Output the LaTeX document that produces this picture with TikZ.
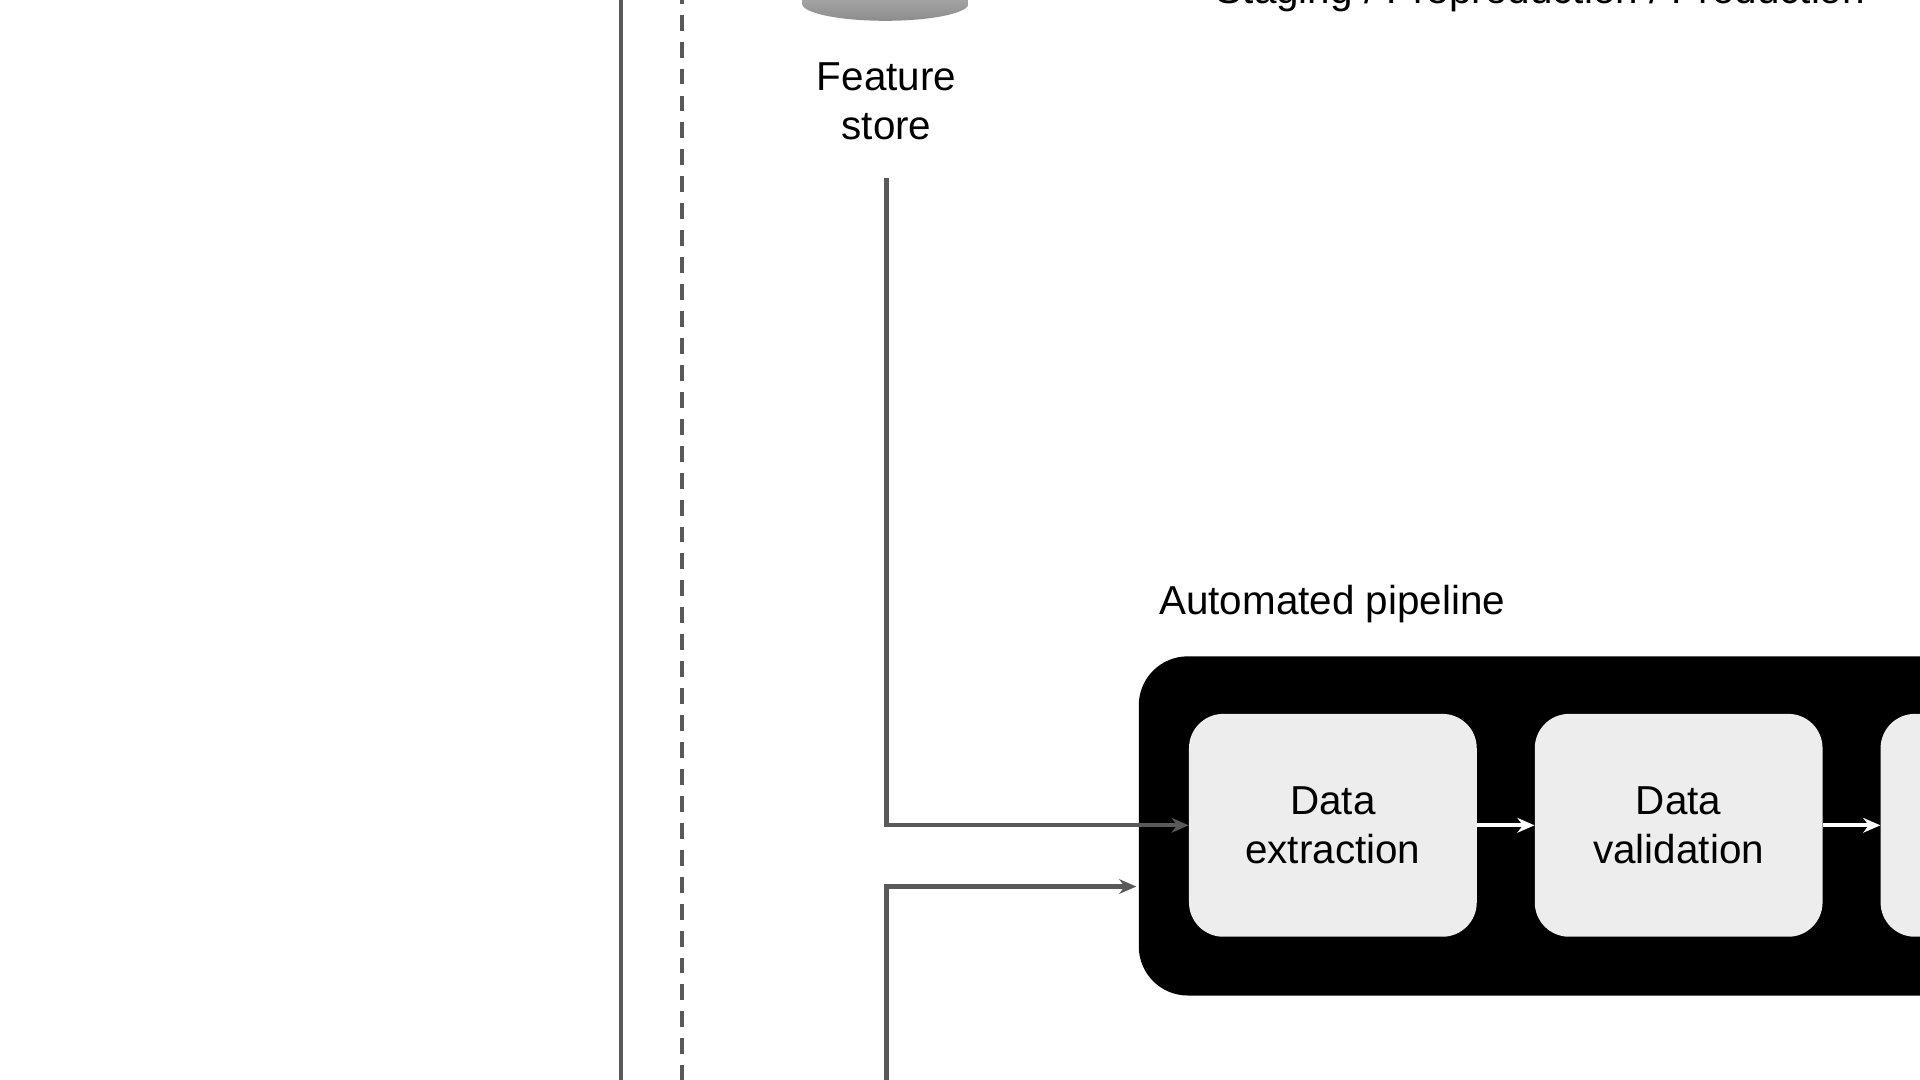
\documentclass[tikz,border=0pt]{standalone}
\usepackage{fontspec}
\setmainfont{Liberation Sans}
\usetikzlibrary{positioning,calc,shapes.geometric,arrows.meta}
\definecolor{linegray}{HTML}{595959}
\definecolor{boxgray}{HTML}{EDEDED}
\begin{document}
\begin{tikzpicture}[x=1pt,y=-1pt,font=\fontsize{33}{40}\selectfont,>={Stealth[length=14pt,width=12pt]}]
  \tikzstyle{wire}=[draw=linegray,line width=3.5pt]
  \tikzstyle{stepbox}=[fill=boxgray,rounded corners=28pt,minimum width=235pt,minimum height=182pt,align=center,inner sep=0pt]
  \useasboundingbox (0,0) rectangle (1568,882);
  \clip (0,0) rectangle (1568,882);
  % environment borders
  \draw[wire] (507,-10) -- (507,892);
  \draw[wire,dash pattern=on 13pt off 9pt] (557,-10) -- (557,892);
  % feature store cylinder (bottom part)
  \shade[top color=gray!30,bottom color=gray!90] (655,-40) -- (791,-40) -- (791,3) arc[start angle=0,end angle=180,x radius=68,y radius=14] -- cycle;
  \node (fstore) at (724,83) [align=center] {Feature\\store};
  \node (env) at (1258,-6) {Staging / Preproduction / Production};
  % pipeline
  \node (pipelab) at (1088,493) {Automated pipeline};
  \fill[black,rounded corners=40pt] (930,536) rectangle (1700,813);
  \node[stepbox] (extract) at (1088.5,674) {Data\\extraction};
  \node[stepbox,right=47pt of extract] (validate) {Data\\validation};
  \node[stepbox,right=47pt of validate] (next) {};
  \draw[white,line width=3.5pt,->] (extract) -- (validate);
  \draw[white,line width=3.5pt,->] (validate) -- (next);
  \coordinate (pipein) at (928,724);
  \coordinate (bottom) at (724,892);
  \draw[wire,->] (724,145) |- (extract.west);
  \draw[wire,->] (bottom) |- (pipein);
\end{tikzpicture}
\end{document}
